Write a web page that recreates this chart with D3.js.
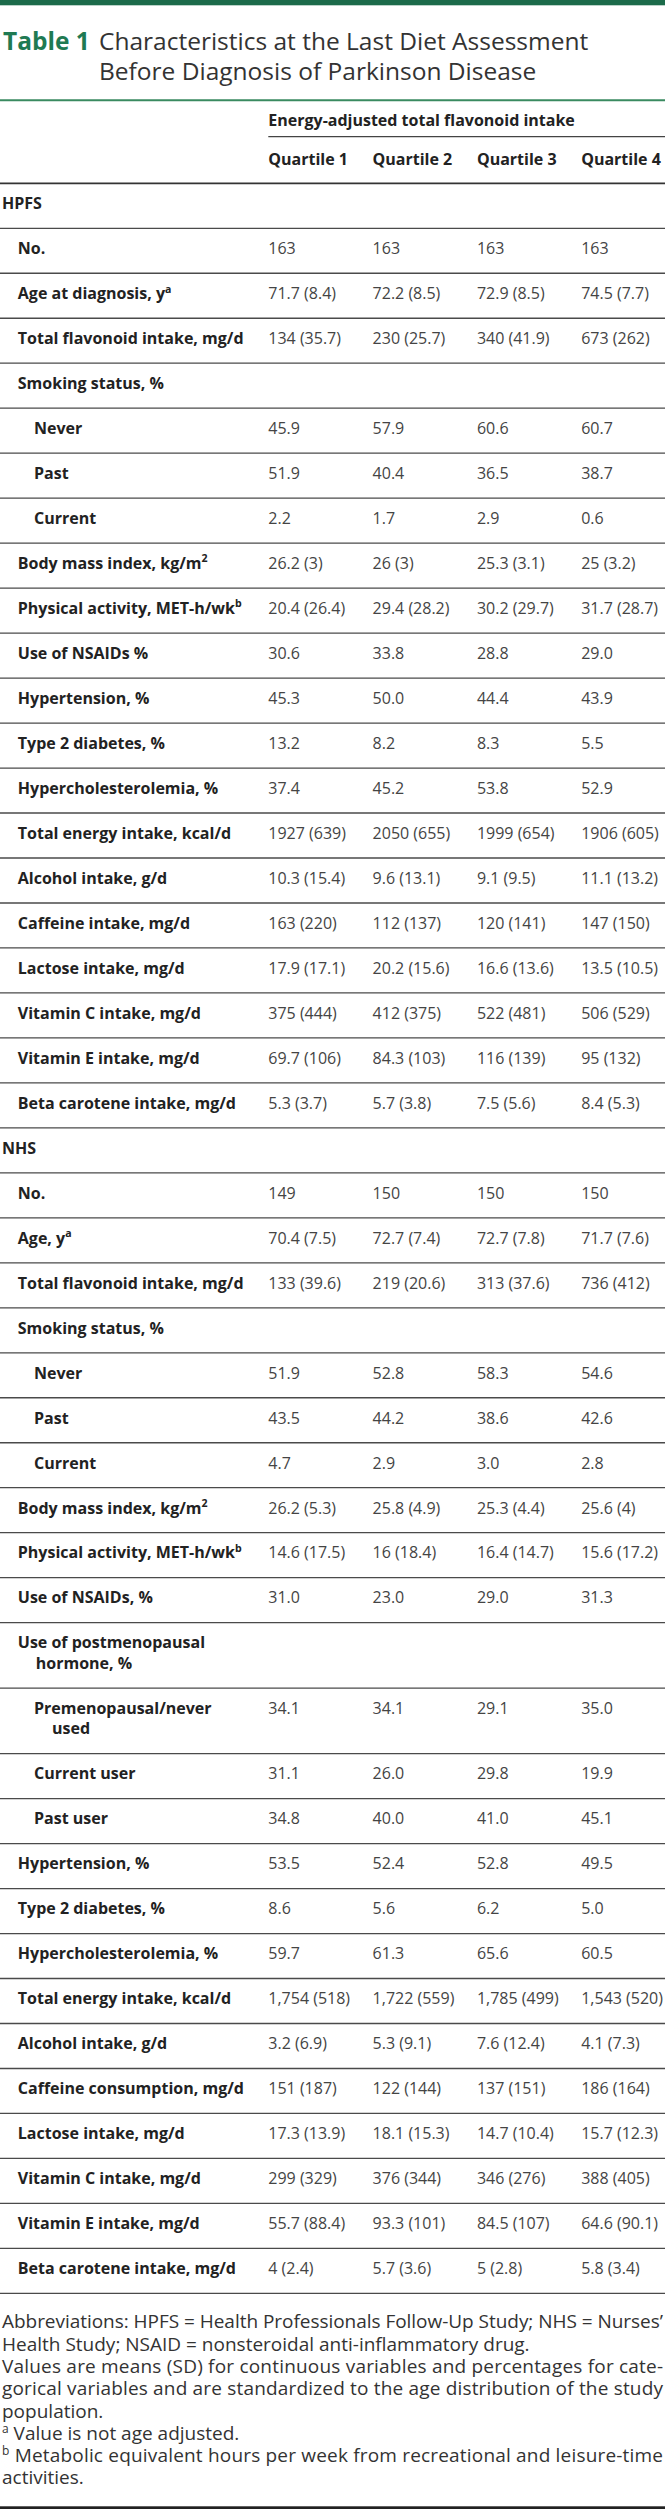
<!DOCTYPE html>
<html>
<head>
<meta charset="utf-8">
<script src="https://cdn.jsdelivr.net/npm/d3@7"></script>
<style>
  html, body { margin: 0; padding: 0; background: #fff; }
  svg { display: block; }
  text { font-family: "Open Sans", "Noto Sans", sans-serif; }
</style>
</head>
<body>
<div id="chart"></div>
<script>
// ---------------- DATA ----------------
const titleLabel = "Table 1";
const titleLines = ["Characteristics at the Last Diet Assessment", "Before Diagnosis of Parkinson Disease"];
const spanHeader = "Energy-adjusted total flavonoid intake";
const quartiles = ["Quartile 1", "Quartile 2", "Quartile 3", "Quartile 4"];
const subItems = ["Never", "Past", "Current", "Premenopausal/never\nused", "Current user", "Past user"];

const hpfsLabels = ["No.", "Age at diagnosis, y^a", "Total flavonoid intake, mg/d", "Smoking status, %", "Never", "Past", "Current",
  "Body mass index, kg/m^2", "Physical activity, MET-h/wk^b", "Use of NSAIDs %", "Hypertension, %", "Type 2 diabetes, %",
  "Hypercholesterolemia, %", "Total energy intake, kcal/d", "Alcohol intake, g/d", "Caffeine intake, mg/d",
  "Lactose intake, mg/d", "Vitamin C intake, mg/d", "Vitamin E intake, mg/d", "Beta carotene intake, mg/d"];
const hpfsQ1 = ["163", "71.7 (8.4)", "134 (35.7)", "", "45.9", "51.9", "2.2", "26.2 (3)", "20.4 (26.4)", "30.6", "45.3", "13.2", "37.4", "1927 (639)", "10.3 (15.4)", "163 (220)", "17.9 (17.1)", "375 (444)", "69.7 (106)", "5.3 (3.7)"];
const hpfsQ2 = ["163", "72.2 (8.5)", "230 (25.7)", "", "57.9", "40.4", "1.7", "26 (3)", "29.4 (28.2)", "33.8", "50.0", "8.2", "45.2", "2050 (655)", "9.6 (13.1)", "112 (137)", "20.2 (15.6)", "412 (375)", "84.3 (103)", "5.7 (3.8)"];
const hpfsQ3 = ["163", "72.9 (8.5)", "340 (41.9)", "", "60.6", "36.5", "2.9", "25.3 (3.1)", "30.2 (29.7)", "28.8", "44.4", "8.3", "53.8", "1999 (654)", "9.1 (9.5)", "120 (141)", "16.6 (13.6)", "522 (481)", "116 (139)", "7.5 (5.6)"];
const hpfsQ4 = ["163", "74.5 (7.7)", "673 (262)", "", "60.7", "38.7", "0.6", "25 (3.2)", "31.7 (28.7)", "29.0", "43.9", "5.5", "52.9", "1906 (605)", "11.1 (13.2)", "147 (150)", "13.5 (10.5)", "506 (529)", "95 (132)", "8.4 (5.3)"];

const nhsLabels = ["No.", "Age, y^a", "Total flavonoid intake, mg/d", "Smoking status, %", "Never", "Past", "Current",
  "Body mass index, kg/m^2", "Physical activity, MET-h/wk^b", "Use of NSAIDs, %", "Use of postmenopausal\nhormone, %",
  "Premenopausal/never\nused", "Current user", "Past user", "Hypertension, %", "Type 2 diabetes, %", "Hypercholesterolemia, %",
  "Total energy intake, kcal/d", "Alcohol intake, g/d", "Caffeine consumption, mg/d", "Lactose intake, mg/d",
  "Vitamin C intake, mg/d", "Vitamin E intake, mg/d", "Beta carotene intake, mg/d"];
const nhsQ1 = ["149", "70.4 (7.5)", "133 (39.6)", "", "51.9", "43.5", "4.7", "26.2 (5.3)", "14.6 (17.5)", "31.0", "", "34.1", "31.1", "34.8", "53.5", "8.6", "59.7", "1,754 (518)", "3.2 (6.9)", "151 (187)", "17.3 (13.9)", "299 (329)", "55.7 (88.4)", "4 (2.4)"];
const nhsQ2 = ["150", "72.7 (7.4)", "219 (20.6)", "", "52.8", "44.2", "2.9", "25.8 (4.9)", "16 (18.4)", "23.0", "", "34.1", "26.0", "40.0", "52.4", "5.6", "61.3", "1,722 (559)", "5.3 (9.1)", "122 (144)", "18.1 (15.3)", "376 (344)", "93.3 (101)", "5.7 (3.6)"];
const nhsQ3 = ["150", "72.7 (7.8)", "313 (37.6)", "", "58.3", "38.6", "3.0", "25.3 (4.4)", "16.4 (14.7)", "29.0", "", "29.1", "29.8", "41.0", "52.8", "6.2", "65.6", "1,785 (499)", "7.6 (12.4)", "137 (151)", "14.7 (10.4)", "346 (276)", "84.5 (107)", "5 (2.8)"];
const nhsQ4 = ["150", "71.7 (7.6)", "736 (412)", "", "54.6", "42.6", "2.8", "25.6 (4)", "15.6 (17.2)", "31.3", "", "35.0", "19.9", "45.1", "49.5", "5.0", "60.5", "1,543 (520)", "4.1 (7.3)", "186 (164)", "15.7 (12.3)", "388 (405)", "64.6 (90.1)", "5.8 (3.4)"];

const footnotes = [
  { sup: "", text: "Abbreviations: HPFS = Health Professionals Follow-Up Study; NHS = Nurses’", justify: true },
  { sup: "", text: "Health Study; NSAID = nonsteroidal anti-inflammatory drug.", justify: false },
  { sup: "", text: "Values are means (SD) for continuous variables and percentages for cate-", justify: true },
  { sup: "", text: "gorical variables and are standardized to the age distribution of the study", justify: true },
  { sup: "", text: "population.", justify: false },
  { sup: "a", text: " Value is not age adjusted.", justify: false },
  { sup: "b", text: " Metabolic equivalent hours per week from recreational and leisure-time", justify: true },
  { sup: "", text: "activities.", justify: false }
];

// ---------------- LAYOUT ----------------
const W = 665, H = 2509;
const rowH = 44.98, wrapExtra = 20.5, lineGap = 20.4;
const tableTop = 183.3;

const svg = d3.select("#chart").append("svg").attr("width", W).attr("height", H);

const x = d3.scaleBand().domain(quartiles).range([268.3, 268.3 + 4 * 104.3]);

const green = "#1c6b4a", titleGreen = "#1f7a53";
const labelColor = "#222", valueColor = "#444";

// top bar
svg.append("rect").attr("x", 0).attr("y", 0).attr("width", W).attr("height", 5.3).attr("fill", green);

// title
const t1 = svg.append("text").attr("y", 49.5).attr("font-size", 24.5);
t1.append("tspan").attr("x", 3).attr("font-weight", 700).attr("fill", titleGreen).text(titleLabel);
titleLines.forEach((l, i) => {
  svg.append("text").attr("x", 99).attr("y", 49.5 + i * 30).attr("font-size", 24.5)
    .attr("fill", "#333").text(l);
});

// green rule under title
svg.append("line").attr("x1", 0).attr("x2", W).attr("y1", 100.3).attr("y2", 100.3)
  .attr("stroke", "#3a8a60").attr("stroke-width", 2);

// span header
svg.append("text").attr("x", x(quartiles[0])).attr("y", 125.5).attr("font-size", 16)
  .attr("font-weight", 700).attr("fill", labelColor).text(spanHeader);
svg.append("line").attr("x1", x(quartiles[0])).attr("x2", W).attr("y1", 136.7).attr("y2", 136.7)
  .attr("stroke", "#444").attr("stroke-width", 1.2);

svg.selectAll("text.qh").data(quartiles).join("text").attr("class", "qh")
  .attr("x", d => x(d)).attr("y", 165.3).attr("font-size", 16).attr("font-weight", 700)
  .attr("fill", labelColor).text(d => d);

svg.append("line").attr("x1", 0).attr("x2", W).attr("y1", tableTop).attr("y2", tableTop)
  .attr("stroke", "#333").attr("stroke-width", 1.8);

// build rows
function buildSection(name, labels, cols) {
  const rows = [{ label: name, level: 0, values: null }];
  labels.forEach((l, i) => {
    rows.push({ label: l, level: subItems.includes(l) ? 2 : 1, values: cols.map(c => c[i]) });
  });
  return rows;
}
const rows = buildSection("HPFS", hpfsLabels, [hpfsQ1, hpfsQ2, hpfsQ3, hpfsQ4])
  .concat(buildSection("NHS", nhsLabels, [nhsQ1, nhsQ2, nhsQ3, nhsQ4]));

let yCur = tableTop;
rows.forEach(r => {
  const nLines = r.label.split("\n").length;
  r.top = yCur;
  r.h = rowH + (nLines - 1) * wrapExtra;
  yCur += r.h;
});

const indentX = { 0: 2, 1: 17.8, 2: 34 };

function addRich(sel, str, baseSize) {
  const parts = str.split("^");
  sel.append("tspan").text(parts[0]);
  if (parts.length > 1) {
    sel.append("tspan").attr("dy", -6.5).attr("font-size", baseSize * 0.66).text(parts[1]);
  }
}

const rowG = svg.selectAll("g.row").data(rows).join("g").attr("class", "row")
  .attr("transform", d => `translate(0,${d.top})`);

rowG.each(function (d) {
  const g = d3.select(this);
  const lines = d.label.split("\n");
  lines.forEach((ln, i) => {
    const t = g.append("text")
      .attr("x", indentX[d.level] + (i > 0 ? 18 : 0))
      .attr("y", 25.8 + i * lineGap)
      .attr("font-size", 16).attr("font-weight", 700).attr("fill", labelColor);
    addRich(t, ln, 16);
  });
  if (d.values) {
    g.selectAll("text.v").data(d.values.map((v, i) => ({ v, q: quartiles[i] }))).join("text")
      .attr("class", "v").attr("x", e => x(e.q)).attr("y", 25.8)
      .attr("font-size", 16).attr("fill", valueColor).text(e => e.v);
  }
  g.append("line").attr("x1", 0).attr("x2", W).attr("y1", d.h).attr("y2", d.h)
    .attr("stroke", "#4a4a4a").attr("stroke-width", 1.3);
});

// footnotes
const fnTop = 2328.3, fnGap = 22.3;
footnotes.forEach((f, i) => {
  const t = svg.append("text").attr("x", 2).attr("y", fnTop + i * fnGap)
    .attr("font-size", 19).attr("fill", "#333");
  if (f.sup) {
    t.append("tspan").attr("font-size", 12).attr("dy", -7).text(f.sup);
    t.append("tspan").attr("dy", 7).text(f.text);
  } else {
    t.text(f.text);
  }
  if (f.justify) {
    t.attr("textLength", 661).attr("lengthAdjust", "spacing");
  }
});

// bottom rule
svg.append("rect").attr("x", 0).attr("y", 2506.3).attr("width", W).attr("height", 2.7).attr("fill", "#222");
</script>
</body>
</html>
